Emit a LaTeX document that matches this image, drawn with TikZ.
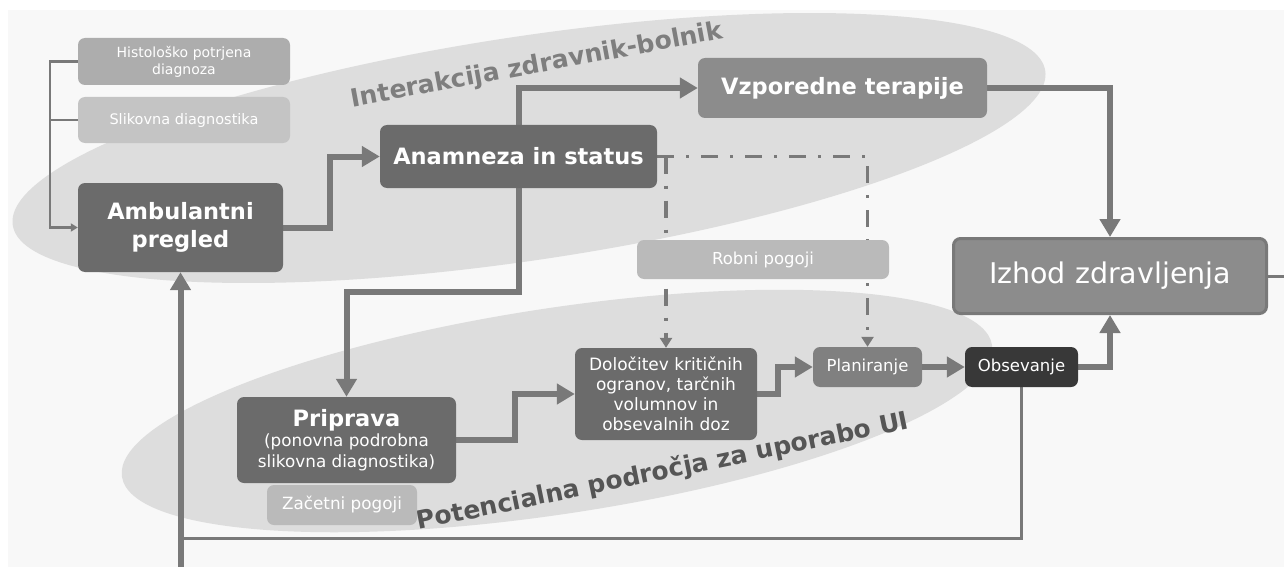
\documentclass[tikz,border=0pt]{standalone}
\usepackage{fontspec}
\setmainfont{DejaVu Sans}
\usepackage{tikz}
\usetikzlibrary{arrows.meta}

\definecolor{bggray}{HTML}{F8F8F8}
\definecolor{ellgray}{HTML}{DDDDDD}
\definecolor{linegray}{HTML}{797979}
\definecolor{boxdark}{HTML}{6B6B6B}
\definecolor{boxmid}{HTML}{8C8C8C}
\definecolor{boxplan}{HTML}{808080}
\definecolor{boxblack}{HTML}{383838}
\definecolor{boxlight}{HTML}{ADADAD}
\definecolor{boxpale}{HTML}{C4C4C4}
\definecolor{labgray}{HTML}{7E7E7E}
\definecolor{labdark}{HTML}{555555}

\newcommand{\fs}[2]{\fontsize{#1}{#2}\selectfont}

\pgfdeclarelayer{back}
\pgfdeclarelayer{lines}
\pgfsetlayers{back,lines,main}

\begin{document}
\begin{tikzpicture}[x=1pt,y=-1pt,
  box/.style={rounded corners=7pt, text=white, align=center, inner sep=0pt},
  flow/.style={draw=linegray, line width=6pt, -{Triangle[length=18pt,width=20pt]}},
  fbline/.style={draw=linegray, line width=3pt},
  bracket/.style={draw=linegray, line width=2.5pt, -{Triangle[length=7pt,width=8pt]}},
  dashdot/.style={draw=linegray, line width=3.5pt, dash pattern=on 17pt off 12pt on 3pt off 12pt, -{Triangle[length=10pt,width=12pt]}}]

\useasboundingbox (0,0) rectangle (1284,567);

% background and the two regions
\begin{pgfonlayer}{back}
\fill[bggray] (8,10) rectangle (1284,567);
\fill[ellgray, rotate around={8.5:(529,148)}] (529,148) ellipse (522pt and 112pt);
\fill[ellgray, rotate around={8.6:(557,411)}] (557,411) ellipse (440pt and 103pt);
\end{pgfonlayer}

\node[rotate=10.5, text=labgray, font=\fs{25}{25}\bfseries] (lblint) at (537,66) {Interakcija zdravnik-bolnik};
\node[rotate=11.6, text=labdark, font=\fs{25}{25}\bfseries] (lblui) at (663,472) {Potencialna področja za uporabo UI};

% boxes
\node[box, fill=boxlight, minimum width=212pt, minimum height=47pt, font=\fs{14}{17}] (histo) at (184,61.5) {Histološko potrjena\\diagnoza};
\node[box, fill=boxpale, minimum width=212pt, minimum height=46pt, font=\fs{14.5}{17}] (slik) at (184,120) {Slikovna diagnostika};
\node[box, fill=boxdark, minimum width=205pt, minimum height=89pt, font=\fs{22.5}{28}\bfseries] (amb) at (180.5,227.5) {Ambulantni\\pregled};
\node[box, fill=boxdark, minimum width=277pt, minimum height=63pt, font=\fs{22.5}{28}\bfseries] (anam) at (518.5,156.5) {Anamneza in status};
\node[box, fill=boxmid, minimum width=289pt, minimum height=60pt, font=\fs{22.5}{28}\bfseries] (vzp) at (842.5,88) {Vzporedne terapije};
\node[box, fill=boxmid, draw=linegray, line width=3pt, minimum width=313pt, minimum height=75pt, font=\fs{28.5}{32}] (izhod) at (1110,276) {Izhod zdravljenja};
\node[box, fill=boxpale!95!black, minimum width=252pt, minimum height=39pt, font=\fs{16.5}{19}] (robni) at (763,259.5) {Robni pogoji};
\node[box, fill=boxdark, minimum width=182pt, minimum height=92pt, font=\fs{17}{20}] (dolo) at (666,394) {Določitev kritičnih\\ogranov, tarčnih\\volumnov in\\obsevalnih doz};
\node[box, fill=boxplan, minimum width=109pt, minimum height=40pt, font=\fs{16.5}{19}] (plan) at (867.5,367) {Planiranje};
\node[box, fill=boxblack, minimum width=113pt, minimum height=40pt, font=\fs{16.5}{19}] (obs) at (1021.5,367) {Obsevanje};
\node[box, fill=boxdark, minimum width=219pt, minimum height=86pt, font=\fs{16.8}{20.5}] (prip) at (346.5,440) {{\fs{22.5}{24}\bfseries Priprava}\\(ponovna podrobna\\slikovna diagnostika)};
\node[box, fill=boxpale!95!black, minimum width=150pt, minimum height=40pt, font=\fs{16.8}{19}] (zac) at (342,505) {Začetni pogoji};

\coordinate (fbturn) at (180.5,538);
\coordinate (fbstart) at (180.5,567);
\coordinate (exit) at (1284,276);

% connectors
\begin{pgfonlayer}{lines}
\draw[bracket] (histo.west) -- ++(-28,0) |- (amb.west);
\draw[draw=linegray, line width=2.5pt] (slik.west) -- ++(-28,0);
\draw[flow] (amb.east) -- ++(47,0) |- (anam.west);
\draw[flow] (anam.north) |- (vzp.west);
\draw[flow] (vzp.east) -| (izhod.north);
\draw[flow] (anam.south) -- ++(0,104) -| (prip.north);
\draw[flow] (prip.east) -- ++(59,0) |- (dolo.west);
\draw[flow] (dolo.east) -- ++(21,0) |- (plan.west);
\draw[flow] (plan.east) -- (obs.west);
\draw[flow] (obs.east) -| (izhod.south);
\draw[dashdot] (anam.east) -| (plan.north);
\draw[dashdot] (anam.east -| dolo.north) -- (dolo.north);
\draw[fbline] (obs.south) |- (fbturn);
\draw[flow] (fbstart) -- (amb.south);
\draw[fbline] (izhod.east) -- (exit);
\end{pgfonlayer}

\end{tikzpicture}
\end{document}
